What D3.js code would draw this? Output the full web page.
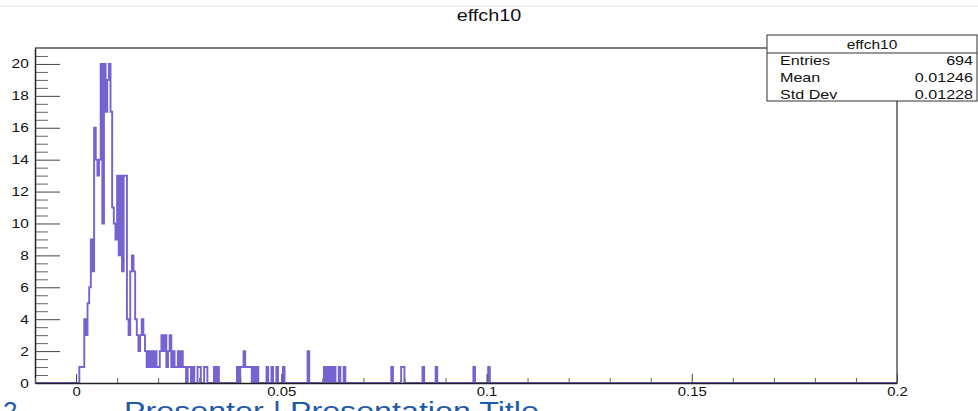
<!DOCTYPE html>
<html>
<head>
<meta charset="utf-8">
<script src="https://cdn.jsdelivr.net/npm/d3@7"></script>
<style>
  body { margin: 0; background: #fff; }
  text { font-family: "Liberation Sans", Arial, sans-serif; fill: #111; }
</style>
</head>
<body>
<div id="chart"></div>
<script>
// histogram data (ROOT "effch10"), bins start at 0 with fixed width
var binLow = 0;
var binWidth = 0.0004;
var counts = [
  0,0,1,1,1,4,3,5,6,9,7,16,14,13,14,20,10,20,17,19,
  20,17,11,10,9,13,8,13,7,13,13,4,3,7,8,7,4,3,2,3,
  4,3,2,1,2,1,2,1,2,1,1,2,3,2,3,1,2,3,1,2,
  1,1,2,1,2,1,1,0,1,1,0,1,0,0,1,1,0,0,1,1,
  0,0,0,0,1,0,1,0,0,0,0,0,0,0,0,0,0,0,1,0,
  1,1,2,1,1,1,1,0,1,0,1,0,0,0,0,0,1,0,0,1,
  0,0,1,0,0,0,1,0,0,0,0,0,0,0,0,0,0,0,0,0,
  0,2,0,0,0,0,0,0,0,0,0,1,0,1,0,1,0,1,0,0,
  1,0,0,1,0,0,0,0,0,0,0,0,0,0,0,0,0,0,0,0,
  0,0,0,0,0,0,0,0,0,0,0,0,1,0,0,0,0,0,1,1,
  0,0,0,0,0,0,0,0,0,0,0,1,0,0,0,0,0,0,0,1,
  0,0,0,0,0,0,0,0,0,0,0,0,0,0,0,0,0,0,0,0,
  0,0,1,0,0,0,0,0,0,0,0,1
];

var xDomain = [-0.01, 0.2];
var yDomain = [0, 21];
var xTicks = [0, 0.05, 0.1, 0.15, 0.2];
var xTickLabels = ["0", "0.05", "0.1", "0.15", "0.2"];
var yTicks = [0, 2, 4, 6, 8, 10, 12, 14, 16, 18, 20];

var histTitle = "effch10";
var statLabels = ["Entries", "Mean", "Std Dev"];
var statValues = ["694", "0.01246", "0.01228"];

var svgWidth = 978;
var svgHeight = 411;
var stretch = 1.24; // the slide picture is stretched horizontally

var frame = { left: 35, right: 897, top: 48, bottom: 383 };

var svg = d3.select("#chart")
  .append("svg")
  .attr("width", svgWidth)
  .attr("height", svgHeight);

// faint slide line at the top
svg.append("rect")
  .attr("x", 0).attr("y", 5)
  .attr("width", svgWidth).attr("height", 2)
  .attr("fill", "#eef2f7");

var x = d3.scaleLinear().domain(xDomain).range([frame.left, frame.right]);
var y = d3.scaleLinear().domain(yDomain).range([frame.bottom, frame.top]);

// frame (top + right)
svg.append("path")
  .attr("d", `M${frame.left},${frame.top}H${frame.right}V${frame.bottom}`)
  .attr("fill", "none")
  .attr("stroke", "#555")
  .attr("stroke-width", 1.5);

// histogram outline
var pts = [{ x: xDomain[0], c: 0 }];
counts.forEach(function(c, i) {
  pts.push({ x: binLow + i * binWidth, c: c });
});
pts.push({ x: binLow + counts.length * binWidth, c: 0 });
pts.push({ x: xDomain[1], c: 0 });

var line = d3.line()
  .x(d => x(d.x))
  .y(d => y(d.c))
  .curve(d3.curveStepAfter);

svg.append("path")
  .datum(pts)
  .attr("d", line)
  .attr("fill", "none")
  .attr("stroke", "#4126bf")
  .attr("stroke-opacity", 0.72)
  .attr("stroke-width", 1.9);

// y axis
var yMinor = d3.range(0, 21, 0.5).filter(v => v % 2 !== 0);
svg.append("g")
  .attr("transform", `translate(${frame.left},0)`)
  .call(d3.axisLeft(y).tickValues(yMinor).tickSize(-13).tickFormat(""))
  .call(g => g.select(".domain").remove())
  .call(g => g.selectAll("line").attr("stroke", "#666"));

var yAxis = svg.append("g")
  .attr("transform", `translate(${frame.left},0)`)
  .call(d3.axisLeft(y).tickValues(yTicks).tickSizeInner(-25).tickSizeOuter(0).tickPadding(5));
yAxis.select(".domain").attr("stroke", "#222").attr("stroke-width", 1.5);
yAxis.selectAll("line").attr("stroke", "#444");
yAxis.selectAll("text")
  .attr("font-size", 12.5)
  .attr("font-family", "Liberation Sans, Arial, sans-serif")
  .attr("fill", "#111")
  .attr("transform", `scale(${stretch},1)`);

// x axis
var xMinor = d3.range(-0.01, 0.2001, 0.01).filter(v => Math.abs(v / 0.05 - Math.round(v / 0.05)) > 1e-6);
svg.append("g")
  .attr("transform", `translate(0,${frame.bottom})`)
  .call(d3.axisBottom(x).tickValues(xMinor).tickSize(-5).tickFormat(""))
  .call(g => g.select(".domain").remove())
  .call(g => g.selectAll("line").attr("stroke", "#666"));

var xAxis = svg.append("g")
  .attr("transform", `translate(0,${frame.bottom})`)
  .call(d3.axisBottom(x).tickValues(xTicks).tickSizeInner(-9).tickSizeOuter(0).tickPadding(4)
    .tickFormat((d, i) => xTickLabels[i]));
xAxis.select(".domain").attr("stroke", "#222").attr("stroke-width", 1.5);
xAxis.selectAll("line").attr("stroke", "#444");
xAxis.selectAll("text")
  .attr("font-size", 12)
  .attr("font-family", "Liberation Sans, Arial, sans-serif")
  .attr("fill", "#111")
  .attr("transform", `scale(${stretch},1)`);

// title
svg.append("text")
  .attr("transform", `translate(489,21) scale(${stretch},1)`)
  .attr("text-anchor", "middle")
  .attr("font-size", 16)
  .text(histTitle);

// stats box
var box = { left: 767, right: 977, top: 35, bottom: 101, head: 53 };
svg.append("rect")
  .attr("x", box.left).attr("y", box.top)
  .attr("width", box.right - box.left).attr("height", box.bottom - box.top)
  .attr("fill", "#fff")
  .attr("stroke", "#333")
  .attr("stroke-width", 1);
svg.append("line")
  .attr("x1", box.left).attr("x2", box.right)
  .attr("y1", box.head).attr("y2", box.head)
  .attr("stroke", "#333");
svg.append("text")
  .attr("transform", `translate(${(box.left + box.right) / 2},48.5) scale(${stretch},1)`)
  .attr("text-anchor", "middle")
  .attr("font-size", 12.5)
  .text(histTitle);

var rowY = [64.5, 81.5, 98.5];
statLabels.forEach(function(s, i) {
  svg.append("text")
    .attr("transform", `translate(780,${rowY[i]}) scale(${stretch},1)`)
    .attr("font-size", 13)
    .text(s);
  svg.append("text")
    .attr("transform", `translate(973,${rowY[i]}) scale(${stretch},1)`)
    .attr("text-anchor", "end")
    .attr("font-size", 13)
    .text(statValues[i]);
});

// slide footer, cut off by the picture edge
svg.append("text")
  .attr("x", 3).attr("y", 420)
  .attr("font-size", 26)
  .style("fill", "#1f5aa6")
  .text("2");
svg.append("text")
  .attr("transform", `translate(124,420) scale(${stretch},1)`)
  .attr("font-size", 26)
  .style("fill", "#1f5aa6")
  .text("Presenter | Presentation Title");
</script>
</body>
</html>
